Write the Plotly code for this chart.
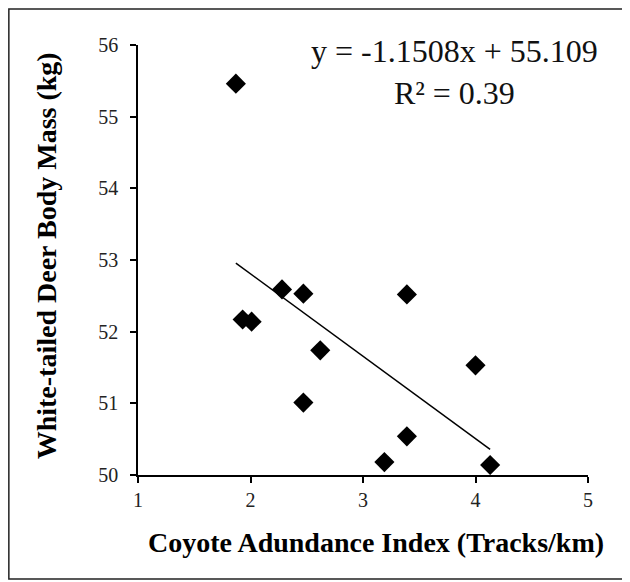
import plotly.graph_objects as go

# Data
coyote_index = [1.87, 1.93, 2.01, 2.28, 2.47, 2.62, 2.47, 3.39, 3.39, 3.19, 4.00, 4.13]
deer_mass = [55.46, 52.17, 52.14, 52.59, 52.53, 51.74, 51.01, 52.52, 50.54, 50.18, 51.53, 50.14]

# Trendline coefficients as printed on the chart
slope = -1.1508
intercept = 55.109
r_squared = 0.39

x_ticks = [1, 2, 3, 4, 5]
y_ticks = [50, 51, 52, 53, 54, 55, 56]

trend_x = [min(coyote_index), max(coyote_index)]
trend_y = [slope * v + intercept for v in trend_x]

FONT = "Liberation Serif, Times New Roman, serif"

fig = go.Figure()
fig.add_trace(go.Scatter(
    x=trend_x, y=trend_y, mode="lines",
    line=dict(color="black", width=1.5), hoverinfo="skip", showlegend=False))
fig.add_trace(go.Scatter(
    x=coyote_index, y=deer_mass, mode="markers",
    marker=dict(symbol="diamond", size=15.5, color="black"), showlegend=False))

axis_common = dict(
    showgrid=False, zeroline=False, showline=True, linecolor="black", linewidth=1.5,
    ticks="outside", ticklen=6, tickwidth=1.5, tickcolor="black",
    tickfont=dict(family=FONT, size=20, color="#222"),
)

fig.update_layout(
    width=622, height=574,
    margin=dict(l=130, r=42, t=37, b=107),
    paper_bgcolor="white", plot_bgcolor="white",
    xaxis=dict(range=[1, 5], tickvals=x_ticks, **axis_common),
    yaxis=dict(range=[50, 56], tickvals=y_ticks, ticklabelstandoff=8, **axis_common),
    annotations=[
        dict(x=3.81, y=55.62, xref="x", yref="y",
             text=f"y = {slope:.4f}x + {intercept:.3f}<br>R² = {r_squared:.2f}",
             showarrow=False, align="center", xanchor="center", yanchor="middle",
             font=dict(family=FONT, size=32, color="#111")),
        dict(x=0.529, y=-0.158, xref="paper", yref="paper",
             text="<b>Coyote Adundance Index (Tracks/km)</b>",
             showarrow=False, xanchor="center", yanchor="middle",
             font=dict(family=FONT, size=28, color="black")),
        dict(x=-0.204, y=0.509, xref="paper", yref="paper",
             text="<b>White-tailed Deer Body Mass (kg)</b>", textangle=-90,
             showarrow=False, xanchor="center", yanchor="middle",
             font=dict(family=FONT, size=28, color="black")),
    ],
    shapes=[dict(type="rect", xref="paper", yref="paper",
                 x0=-0.287, x1=1.082, y0=-0.242, y1=1.084,
                 line=dict(color="#222", width=1.5))],
)

fig.write_html("out.html")
